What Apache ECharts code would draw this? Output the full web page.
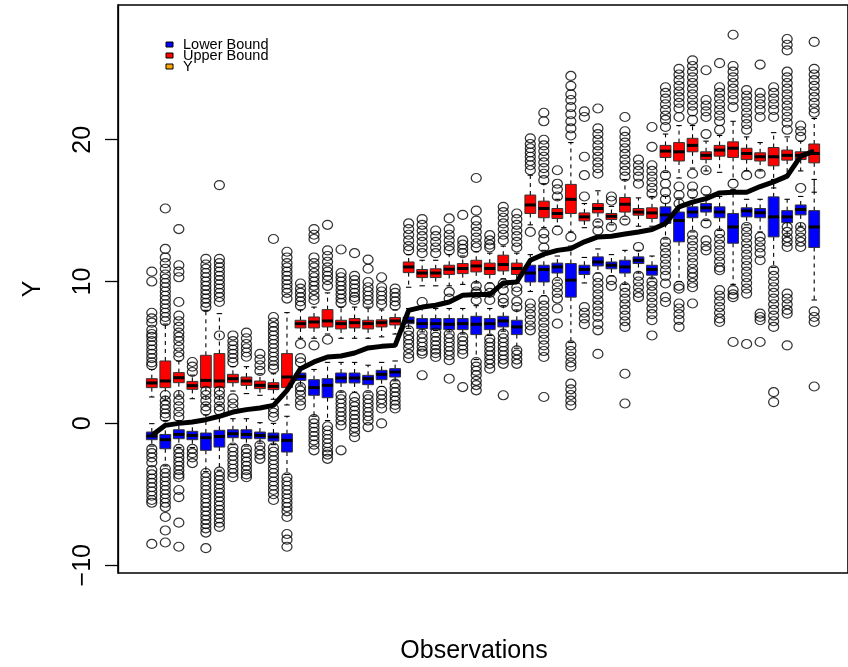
<!DOCTYPE html>
<html>
<head>
<meta charset="utf-8">
<script src="https://cdn.jsdelivr.net/npm/echarts@6/dist/echarts.min.js"></script>
<style>
  html, body { margin: 0; padding: 0; background: #fff; }
  #chart { width: 848px; height: 667px; }
</style>
</head>
<body>
<div id="chart"></div>
<script>
// Observation index (x position of each pair of boxes)
const observations = [1,2,3,4,5,6,7,8,9,10,11,12,13,14,15,16,17,18,19,20,
  21,22,23,24,25,26,27,28,29,30,31,32,33,34,35,36,37,38,39,40,
  41,42,43,44,45,46,47,48,49,50];

// Observed Y (thick black line)
const yValues = [-0.85, -0.14, 0.0, 0.1, 0.26, 0.5, 0.8, 0.97, 1.08, 1.27,
  2.33, 3.86, 4.33, 4.68, 4.75, 4.96, 5.32, 5.43, 5.5, 7.97,
  8.2, 8.33, 8.56, 9.03, 9.08, 9.08, 9.9, 9.97, 11.5, 11.93,
  12.2, 12.33, 12.8, 13.15, 13.2, 13.35, 13.5, 13.67, 14.1, 15.27,
  15.6, 15.85, 16.25, 16.3, 16.3, 16.7, 17.03, 17.43, 18.84, 19.2];

// Box statistics per observation: [lower whisker, Q1, median, Q3, upper whisker]
const upperStats = [
  [1.86, 2.52, 2.85, 3.15, 3.8], [1.6, 2.52, 2.99, 4.4, 7.0], [2.0, 2.87, 3.22, 3.58, 4.4],
  [1.74, 2.4, 2.66, 2.96, 3.4], [1.3, 2.52, 3.03, 4.8, 7.97], [1.3, 2.52, 2.99, 4.92, 7.74],
  [2.28, 2.87, 3.15, 3.46, 4.0], [2.1, 2.68, 2.99, 3.27, 4.0], [1.98, 2.45, 2.68, 2.99, 3.5],
  [1.7, 2.38, 2.61, 2.87, 3.5], [1.3, 2.52, 3.27, 4.92, 7.81],
  [6.0, 6.73, 7.03, 7.27, 8.0], [6.0, 6.73, 7.15, 7.5, 8.2], [6.3, 6.8, 7.22, 8.02, 9.2],
  [6.0, 6.66, 7.03, 7.27, 8.2], [6.0, 6.73, 7.1, 7.39, 8.2], [6.0, 6.66, 7.03, 7.27, 8.2],
  [6.1, 6.8, 7.1, 7.3, 8.0], [6.3, 6.94, 7.22, 7.46, 8.0],
  [9.6, 10.63, 11.03, 11.38, 11.9], [9.7, 10.28, 10.6, 10.85, 11.5], [9.7, 10.28, 10.6, 10.9, 11.5],
  [9.7, 10.5, 10.87, 11.15, 11.9], [9.8, 10.56, 10.92, 11.27, 11.8], [9.9, 10.68, 11.1, 11.5, 12.1],
  [9.9, 10.5, 10.92, 11.3, 12.0], [10.2, 10.75, 11.2, 11.86, 12.5], [9.9, 10.5, 10.92, 11.3, 12.0],
  [14.0, 14.8, 15.4, 16.1, 17.5], [13.8, 14.5, 15.15, 15.67, 16.9], [13.9, 14.45, 14.8, 15.15, 15.8],
  [13.5, 14.8, 15.8, 16.85, 19.8], [13.8, 14.28, 14.56, 14.84, 15.5], [14.2, 14.84, 15.15, 15.5, 16.4],
  [14.0, 14.37, 14.6, 14.8, 15.3], [14.4, 14.9, 15.45, 15.93, 17.2], [13.9, 14.68, 14.9, 15.15, 15.9],
  [13.9, 14.45, 14.84, 15.2, 16.0],
  [17.7, 18.75, 19.2, 19.6, 20.4], [17.3, 18.5, 19.15, 19.8, 21.0], [18.0, 19.15, 19.6, 20.1, 21.0],
  [17.8, 18.6, 18.9, 19.15, 19.9], [17.7, 18.84, 19.27, 19.6, 20.3], [17.2, 18.75, 19.4, 19.85, 21.3],
  [17.8, 18.6, 19.03, 19.4, 20.2], [17.8, 18.5, 18.8, 19.08, 19.8], [16.6, 18.16, 18.8, 19.45, 20.5],
  [17.5, 18.56, 18.9, 19.27, 20.2], [17.8, 18.6, 18.9, 19.15, 19.9], [16.3, 18.37, 19.03, 19.7, 21.5]
];

const lowerStats = [
  [-1.6, -1.15, -0.89, -0.61, -0.02], [-3.0, -1.79, -1.15, -0.78, 0.2], [-1.7, -1.08, -0.78, -0.45, 0.2],
  [-1.7, -1.15, -0.85, -0.56, 0.2], [-3.4, -1.9, -1.01, -0.68, 0.6], [-3.3, -1.67, -0.92, -0.49, 0.6],
  [-1.5, -1.01, -0.73, -0.45, 0.33], [-1.6, -1.08, -0.78, -0.45, 0.33], [-1.4, -1.08, -0.85, -0.61, 0.05],
  [-1.5, -1.25, -0.96, -0.68, 0.0], [-3.6, -2.02, -1.2, -0.73, 0.5],
  [2.7, 3.03, 3.3, 3.55, 4.0], [0.5, 1.98, 2.52, 3.08, 3.8], [0.2, 1.81, 2.68, 3.15, 4.3],
  [2.2, 2.85, 3.2, 3.55, 4.3], [2.2, 2.85, 3.2, 3.55, 4.3], [2.2, 2.73, 3.15, 3.39, 4.1],
  [2.6, 3.08, 3.46, 3.74, 4.3], [3.0, 3.27, 3.62, 3.86, 4.4],
  [6.7, 7.03, 7.2, 7.5, 8.1], [6.45, 6.68, 7.03, 7.39, 8.1], [6.55, 6.61, 7.03, 7.39, 8.1],
  [6.45, 6.61, 6.99, 7.39, 8.1], [6.3, 6.61, 7.03, 7.39, 8.1], [4.5, 6.26, 6.99, 7.55, 8.3],
  [6.2, 6.61, 7.03, 7.39, 8.1], [6.5, 6.8, 7.22, 7.55, 8.3], [5.3, 6.26, 6.8, 7.27, 8.0],
  [9.3, 9.97, 10.6, 11.15, 11.9], [9.0, 9.97, 10.85, 11.15, 12.2], [10.1, 10.6, 11.03, 11.3, 11.8],
  [5.7, 8.9, 10.1, 11.27, 12.5], [9.9, 10.5, 10.85, 11.15, 11.7], [10.6, 11.1, 11.38, 11.74, 12.3],
  [10.4, 10.9, 11.15, 11.38, 11.9], [9.8, 10.6, 11.03, 11.5, 12.2], [10.6, 11.27, 11.5, 11.74, 12.2],
  [10.2, 10.45, 10.85, 11.15, 11.8],
  [13.0, 14.1, 14.7, 15.27, 16.0], [10.0, 12.8, 14.3, 14.9, 15.9], [13.5, 14.5, 14.9, 15.27, 15.9],
  [14.3, 14.9, 15.2, 15.5, 16.1], [13.6, 14.5, 14.9, 15.27, 16.0], [9.8, 12.7, 13.85, 14.8, 16.5],
  [14.0, 14.56, 14.98, 15.2, 15.8], [13.5, 14.5, 14.85, 15.15, 15.8], [11.0, 13.15, 14.56, 15.97, 17.2],
  [13.2, 14.15, 14.56, 15.0, 15.8], [13.9, 14.7, 15.08, 15.4, 16.0], [8.7, 12.4, 13.85, 15.0, 17.2]
];

// Points beyond the whiskers
const upperOutliers = [
  [10.7, 10.0, 7.8, 7.4, 7.1, 6.6, 6.3, 6.1, 5.8, 5.5, 5.2, 4.9, 4.6, 4.3, 4.1],
  [15.15, 12.3, 11.7, 11.3, 10.9, 10.5, 10.2, 9.9, 9.6, 9.3, 9.0, 8.7, 8.4, 8.1, 7.8, 7.5, 7.2],
  [13.7, 11.15, 10.7, 10.3, 8.56, 7.6, 7.2, 6.8, 6.4, 6.1, 5.8, 5.4, 5.0, 4.7],
  [4.33, 4.0, 3.62],
  [11.6, 11.2, 10.9, 10.6, 10.3, 10.0, 9.7, 9.4, 9.1, 8.8, 8.5, 8.2],
  [16.8, 11.6, 11.3, 11.0, 10.7, 10.4, 10.1, 9.8, 9.5, 9.2, 8.9, 8.56, 6.2],
  [6.2, 5.8, 5.5, 5.2, 4.9, 4.6, 4.3],
  [6.4, 6.0, 5.6, 5.3, 5.0, 4.7],
  [4.9, 4.5, 4.1, 3.7],
  [13.0, 7.5, 7.1, 6.8, 6.5, 6.2, 5.9, 5.6, 5.3, 5.0, 4.7, 4.4, 4.1, 3.86],
  [12.1, 11.7, 11.3, 11.0, 10.7, 10.4, 10.1, 9.8, 9.5, 9.2, 8.8],
  [9.86, 9.5, 9.2, 8.9, 8.6, 8.3, 5.6],
  [13.7, 13.3, 13.0, 11.7, 11.3, 11.0, 10.6, 10.3, 10.0, 9.7, 9.4, 9.0, 8.7, 5.5],
  [14.0, 12.2, 11.8, 11.4, 11.0, 10.7, 10.4, 10.1, 9.7, 5.9],
  [12.26, 10.6, 10.3, 10.0, 9.7, 9.4, 9.1, 8.8, 8.5],
  [12.0, 10.4, 10.1, 9.8, 9.5, 9.2, 8.9, 8.7],
  [11.55, 10.9, 9.97, 9.6, 9.3, 9.0, 8.7, 8.4],
  [10.3, 9.6, 9.3, 9.0, 8.7, 8.4],
  [9.5, 9.2, 8.9, 8.6, 8.3],
  [14.1, 13.7, 13.3, 12.9, 12.5, 12.2],
  [14.4, 14.0, 13.6, 13.2, 12.8, 12.4, 12.0, 8.56],
  [13.6, 13.2, 12.8, 12.4, 12.0],
  [14.45, 13.7, 13.3, 12.9, 12.5, 12.2, 9.27, 8.8],
  [14.7, 12.9, 12.6, 12.3, 12.0],
  [17.3, 15.0, 14.3, 13.9, 13.5, 13.1, 12.7, 12.4, 9.7, 9.3],
  [13.27, 12.9, 12.6, 12.4, 9.6, 9.2, 8.7],
  [15.27, 14.9, 14.5, 14.1, 13.7, 13.3, 12.9, 9.86, 9.4, 8.8],
  [14.8, 14.4, 14.0, 13.6, 13.2, 12.8, 12.4],
  [20.1, 19.7, 19.4, 19.1, 18.8, 18.5, 18.2, 17.85, 13.5],
  [21.9, 21.3, 20.0, 19.6, 19.2, 18.8, 18.4, 18.0, 17.6, 17.15, 13.4, 13.0, 12.4],
  [17.85, 16.9, 16.5, 16.0, 13.6],
  [24.5, 23.8, 23.2, 22.8, 22.3, 21.8, 21.3, 20.8, 20.3, 13.15],
  [22.0, 21.6, 18.8, 17.5, 16.0],
  [22.2, 20.8, 20.4, 20.0, 19.6, 19.2, 18.8, 18.4, 18.0, 17.6, 14.1, 13.6],
  [16.0, 15.7, 13.85],
  [21.6, 20.6, 20.2, 19.8, 19.4, 19.0, 18.6, 18.2, 17.8, 17.4, 14.3],
  [18.6, 18.2, 17.8, 17.4, 16.9, 12.44],
  [20.9, 19.5, 18.2, 17.8, 17.4, 17.0, 16.6, 16.2],
  [23.7, 23.3, 22.9, 22.5, 22.1, 21.7, 21.4, 20.9, 17.5, 16.9, 16.3, 15.8],
  [25.0, 24.6, 24.2, 23.8, 23.4, 23.0, 22.6, 22.2, 21.6, 16.7, 16.1, 15.5],
  [25.6, 25.2, 24.8, 24.4, 24.0, 23.6, 23.2, 22.8, 22.4, 22.0, 21.4, 17.6, 16.7, 16.2],
  [24.9, 22.8, 22.4, 22.0, 21.6, 20.4, 17.85, 16.4],
  [25.4, 23.7, 23.3, 22.9, 22.5, 22.1, 21.7, 21.3, 20.7],
  [27.4, 25.2, 24.8, 24.4, 24.0, 23.6, 23.2, 22.8, 22.3, 16.9],
  [23.5, 23.1, 22.7, 22.3, 21.9, 21.5, 21.1, 20.7, 17.5],
  [25.3, 23.3, 22.9, 22.5, 22.1, 21.6, 17.6],
  [23.7, 23.3, 22.9, 22.5, 22.1, 21.6],
  [27.1, 26.7, 26.3, 24.8, 24.4, 24.0, 23.6, 23.2, 22.8, 22.4, 22.0, 21.6, 21.2, 20.7],
  [21.0, 20.6, 20.2, 16.6],
  [26.9, 25.0, 24.6, 24.2, 23.8, 23.4, 23.0, 22.6, 22.2, 21.9]
];

const lowerOutliers = [
  [-1.8, -2.1, -2.4, -2.75, -3.3, -3.6, -3.9, -4.2, -4.5, -4.8, -5.1, -5.4, -5.6, -8.5],
  [2.0, 1.6, 1.3, 1.0, 0.7, 0.44, -3.2, -3.5, -3.8, -4.1, -4.4, -4.7, -5.0, -5.3, -5.6, -5.9, -6.6, -7.55, -8.4],
  [2.0, 1.6, 1.2, 0.8, 0.45, -1.8, -2.1, -2.4, -2.7, -3.0, -3.3, -3.6, -3.8, -4.7, -5.2, -7.0, -8.7],
  [-1.8, -2.1, -2.4, -2.8],
  [2.3, 2.0, 1.6, 1.2, 0.9, -3.5, -3.8, -4.1, -4.4, -4.7, -5.0, -5.3, -5.6, -5.9, -6.2, -6.5, -6.8, -7.1, -7.4, -7.7, -8.8],
  [2.3, 2.0, 1.6, 1.2, 0.9, -3.4, -3.7, -4.0, -4.3, -4.6, -4.9, -5.2, -5.5, -5.8, -6.1, -6.4, -6.7, -7.0, -7.3],
  [1.76, 1.4, 1.05, -1.7, -2.0, -2.3, -2.6, -2.9, -3.2, -3.5, -3.8],
  [-1.8, -2.1, -2.4, -2.7, -3.0, -3.3, -3.6, -3.8],
  [-1.55, -1.9, -2.2, -2.5],
  [1.05, 0.75, 0.45, -1.7, -2.0, -2.3, -2.6, -2.9, -3.2, -3.5, -3.8, -4.1, -4.4, -4.7, -5.0, -5.4],
  [-3.8, -4.1, -4.4, -4.7, -5.0, -5.3, -5.6, -5.9, -6.2, -6.6, -7.8, -8.2, -8.7],
  [4.6, 4.3, 2.56, 2.3, 2.0, 1.6, 1.27],
  [0.3, 0.0, -0.3, -0.6, -0.9, -1.2, -1.5, -1.9],
  [-0.2, -0.5, -0.8, -1.1, -1.4, -1.7, -2.0, -2.2, -2.5],
  [2.0, 1.7, 1.4, 1.1, 0.8, 0.5, 0.2, -0.14, -1.9],
  [1.86, 1.5, 1.2, 0.9, 0.6, 0.3, 0.0, -0.3, -0.6, -0.97],
  [2.0, 1.7, 1.4, 1.1, 0.8, 0.5, 0.2, -0.26],
  [2.3, 2.0, 1.7, 1.4, 1.05, 0.0],
  [2.8, 2.5, 2.2, 1.9, 1.6, 1.3, 1.05],
  [6.56, 6.2, 5.9, 5.6, 5.3, 4.9, 4.6],
  [6.33, 6.0, 5.7, 5.4, 5.1, 4.92, 3.39],
  [6.4, 6.1, 5.8, 5.5, 5.2, 4.95, 4.68],
  [6.3, 6.0, 5.7, 5.4, 5.1, 4.8, 4.45, 3.15],
  [6.1, 5.8, 5.5, 5.2, 4.9, 2.56],
  [9.15, 8.68, 4.33, 4.0, 3.7, 3.4, 3.0, 2.7, 2.33],
  [5.98, 5.7, 5.4, 5.1, 4.8, 4.5, 4.2, 3.86],
  [8.5, 6.33, 6.0, 5.7, 5.4, 5.1, 4.8, 4.5, 4.2, 1.98],
  [9.6, 9.3, 8.6, 8.2, 5.15, 4.85, 4.5, 4.2],
  [8.45, 8.1, 7.7, 7.3, 6.9, 6.56],
  [8.7, 8.3, 7.9, 7.5, 7.1, 6.7, 6.3, 5.9, 5.5, 5.1, 4.68, 1.86],
  [9.97, 9.6, 9.2, 8.8, 8.1, 7.03],
  [5.5, 5.1, 4.7, 4.3, 4.0, 2.8, 2.4, 2.0, 1.6, 1.27],
  [8.2, 7.8, 7.4, 7.0],
  [10.3, 9.9, 9.5, 9.1, 8.7, 8.3, 7.9, 7.5, 7.0, 6.56, 4.9],
  [10.1, 9.7],
  [9.6, 9.2, 8.8, 8.4, 8.0, 7.6, 7.2, 6.8, 3.5, 1.4],
  [10.4, 10.0, 9.6, 9.2, 8.9],
  [10.0, 9.7, 9.3, 8.9, 8.5, 8.1, 7.7, 7.27, 6.2],
  [12.8, 12.4, 12.0, 11.6, 11.2, 10.8, 10.4, 9.86, 8.9, 8.56],
  [9.7, 9.5, 8.45, 8.1, 7.7, 7.3, 6.8],
  [13.3, 12.9, 12.5, 12.1, 11.7, 11.3, 10.9, 10.6, 10.3, 9.9, 9.6, 8.45],
  [14.1, 12.9, 12.5, 12.2],
  [13.4, 13.0, 12.6, 12.2, 11.8, 11.4, 11.0, 10.8, 9.4, 9.0, 8.6, 8.2, 7.8, 7.4, 7.15],
  [9.4, 9.1, 8.9, 5.74],
  [13.85, 13.5, 13.1, 12.7, 12.3, 11.9, 11.5, 11.1, 10.7, 10.3, 9.9, 9.5, 9.15, 5.6],
  [13.15, 12.8, 12.4, 12.0, 11.5, 7.74, 7.5, 7.27, 5.74],
  [10.8, 10.4, 10.0, 9.6, 9.2, 8.8, 8.4, 8.0, 7.6, 7.2, 6.8, 2.2, 1.5],
  [13.85, 13.5, 13.1, 12.8, 12.44, 9.15, 8.8, 8.4, 8.0, 7.74, 5.5],
  [13.85, 13.5, 13.1, 12.8, 12.44],
  [7.9, 7.5, 7.15, 2.6]
];

const legendItems = ['Lower Bound', 'Upper Bound', 'Y'];
const legendColors = ['#0000ff', '#ff0000', '#ffa500'];

const FONT = '"Liberation Sans", Arial, Helvetica, sans-serif';

function boxData(stats) {
  return stats.map((s, i) => [observations[i]].concat(s));
}

function outlierData(lists) {
  const pts = [];
  lists.forEach((vals, i) => vals.forEach(v => pts.push([observations[i], v])));
  return pts;
}

// Box with dashed whiskers, staples and a heavy median bar
function boxRenderer(fill) {
  return function (params, api) {
    const x = api.value(0);
    const lo = api.coord([x, api.value(1)]);
    const q1 = api.coord([x, api.value(2)]);
    const md = api.coord([x, api.value(3)]);
    const q3 = api.coord([x, api.value(4)]);
    const hi = api.coord([x, api.value(5)]);
    const unit = api.size([1, 0])[0];
    const half = unit * 0.4;
    const staple = half * 0.5;
    const cx = q1[0];
    const black = '#000';
    return {
      type: 'group',
      children: [
        { type: 'line', shape: { x1: cx, y1: q3[1], x2: cx, y2: hi[1] },
          style: { stroke: black, lineWidth: 1.1, lineDash: [4, 4] } },
        { type: 'line', shape: { x1: cx, y1: q1[1], x2: cx, y2: lo[1] },
          style: { stroke: black, lineWidth: 1.1, lineDash: [4, 4] } },
        { type: 'line', shape: { x1: cx - staple, y1: hi[1], x2: cx + staple, y2: hi[1] },
          style: { stroke: black, lineWidth: 1.1 } },
        { type: 'line', shape: { x1: cx - staple, y1: lo[1], x2: cx + staple, y2: lo[1] },
          style: { stroke: black, lineWidth: 1.1 } },
        { type: 'rect', shape: { x: cx - half, y: q3[1], width: half * 2, height: q1[1] - q3[1] },
          style: { fill: fill, stroke: '#333', lineWidth: 1 } },
        { type: 'line', shape: { x1: cx - half, y1: md[1], x2: cx + half, y2: md[1] },
          style: { stroke: black, lineWidth: 3 } }
      ]
    };
  };
}

const chart = echarts.init(document.getElementById('chart'), null, { renderer: 'canvas' });

const outlierStyle = {
  type: 'scatter',
  symbol: 'circle',
  symbolSize: [10, 9],
  itemStyle: { color: 'rgba(0,0,0,0)', borderColor: '#000', borderWidth: 1.2 },
  silent: true
};

// Legend keys and captions, plus the x-axis title
const graphics = [];
legendItems.forEach((name, i) => {
  const cy = 44.5 + i * 11;
  graphics.push({ type: 'rect', shape: { x: 166, y: cy - 2.5, width: 7, height: 5 },
    style: { fill: legendColors[i], stroke: '#000', lineWidth: 1 } });
  graphics.push({ type: 'text', x: 183, y: cy + 0.5,
    style: { text: name, fontFamily: FONT, fontSize: 14.5, fill: '#000', verticalAlign: 'middle', align: 'left' } });
});
graphics.push({ type: 'text', x: 474, y: 651,
  style: { text: 'Observations', fontFamily: FONT, fontSize: 25, fill: '#000', align: 'center', verticalAlign: 'middle' } });

chart.setOption({
  animation: false,
  backgroundColor: '#fff',
  grid: {
    left: 118, top: 5, width: 738.7, height: 568,
    show: true, borderColor: '#000', borderWidth: 1.6, backgroundColor: 'transparent'
  },
  xAxis: {
    type: 'value', min: -1.5, max: 52.5,
    axisLine: { show: false }, axisTick: { show: false },
    axisLabel: { show: false }, splitLine: { show: false }
  },
  yAxis: {
    type: 'value', min: -10.55, max: 29.5,
    name: 'Y', nameLocation: 'middle', nameGap: 72,
    nameTextStyle: { fontFamily: FONT, fontSize: 25, color: '#000' },
    axisLine: { show: true, onZero: false, lineStyle: { color: '#000', width: 1.3 } },
    axisTick: { show: true, length: 13, lineStyle: { color: '#000', width: 1.3 },
      customValues: [-10, 0, 10, 20] },
    axisLabel: { rotate: 90, margin: 22, fontFamily: FONT, fontSize: 25, color: '#000',
      customValues: [-10, 0, 10, 20], formatter: v => String(v).replace('-', '\u2212') },
    splitLine: { show: false }
  },
  series: [
    { name: 'Lower Bound', type: 'custom', renderItem: boxRenderer('#0000ff'),
      data: boxData(lowerStats), encode: { x: 0, y: [1, 2, 3, 4, 5] }, silent: true },
    Object.assign({ name: 'Lower Bound outliers', data: outlierData(lowerOutliers) }, outlierStyle),
    { name: 'Upper Bound', type: 'custom', renderItem: boxRenderer('#ff0000'),
      data: boxData(upperStats), encode: { x: 0, y: [1, 2, 3, 4, 5] }, silent: true },
    Object.assign({ name: 'Upper Bound outliers', data: outlierData(upperOutliers) }, outlierStyle),
    { name: 'Y', type: 'line', showSymbol: false, symbol: 'none',
      data: observations.map((o, i) => [o, yValues[i]]),
      lineStyle: { color: '#000', width: 5 }, z: 5, silent: true }
  ],
  graphic: graphics
});
</script>
</body>
</html>
